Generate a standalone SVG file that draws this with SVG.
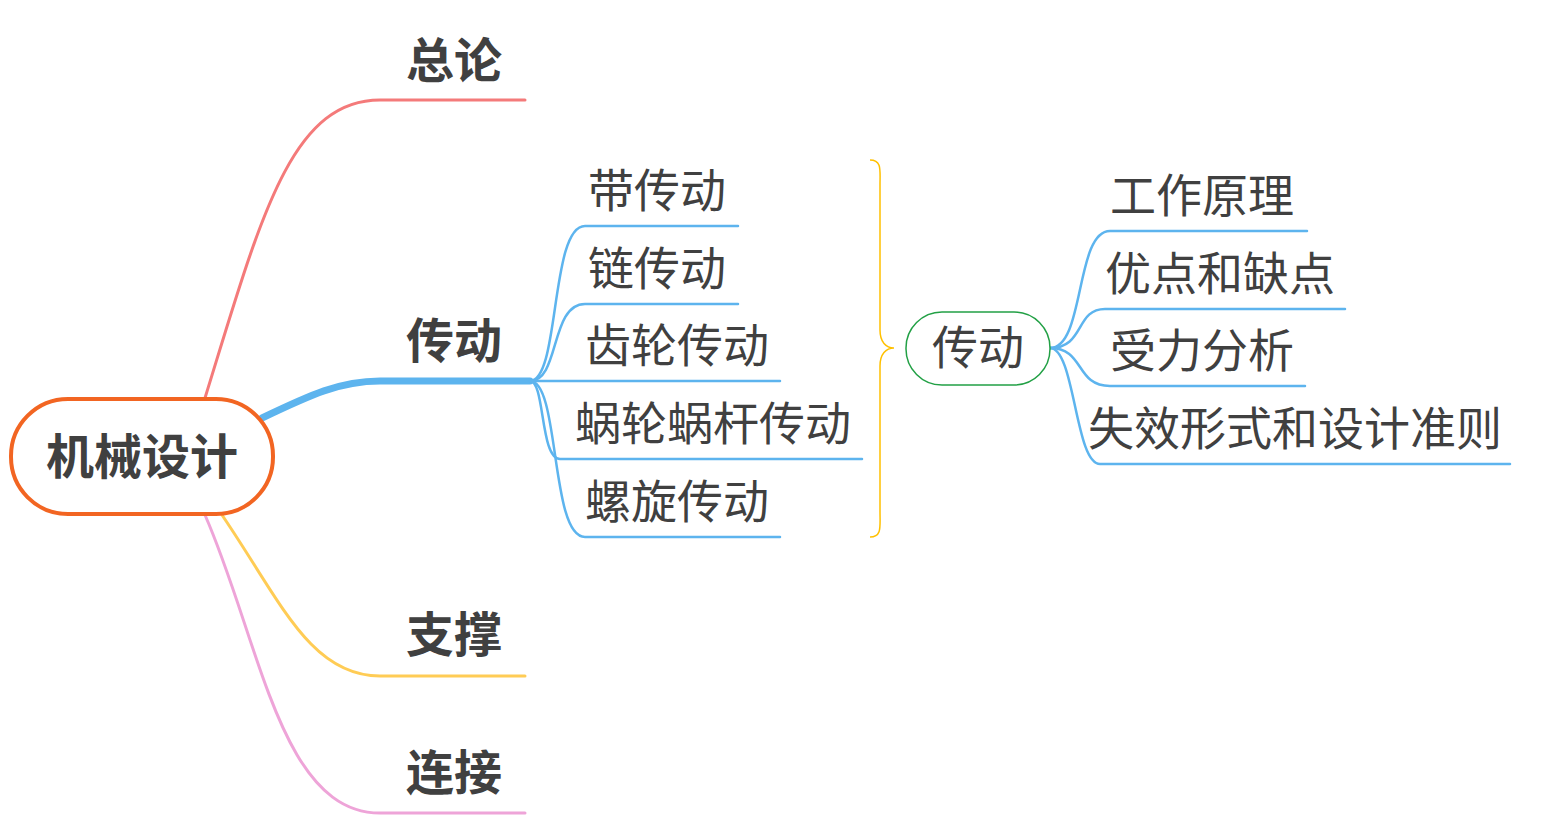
<svg xmlns="http://www.w3.org/2000/svg" width="1546" height="839" viewBox="0 0 1546 839">
<style>
text{font-family:"Noto Sans CJK SC","Noto Sans",sans-serif;fill:#404040}
.b{font-weight:bold;font-size:48px}
.n{font-size:46px}
.c{fill:none;stroke-width:3;stroke-linecap:round}
</style>
<rect width="1546" height="839" fill="#fff"/>
<g id="connectors">
<path class="c" d="M205,398 C260,220 290,100 380,100 H525" stroke="#F47A7A" stroke-width="4"/>
<path class="c" d="M262,418 C310,395 340,381 380,381 H530" stroke="#5DB4EE" style="stroke-width:7"/>
<path d="M380,381 H530" class="c" stroke="#5DB4EE"/>
<path class="c" d="M222,515 C280,600 310,676 380,676 H525" stroke="#FFCC55"/>
<path class="c" d="M205,515 C260,640 280,813 380,813 H525" stroke="#EEA4D8"/>
<g stroke="#5DB4EE" class="c" style="stroke-width:2.5" fill="none">
<path d="M530,381 C560,381 550,226 585,226 H738"/>
<path d="M530,381 C560,381 550,304 585,304 H738"/>
<path d="M530,381 H780"/>
<path d="M530,381 C545,381 540,459 560,459 H862"/>
<path d="M530,381 C560,381 550,537 585,537 H780"/>
<path d="M1050,348 C1085,348 1075,231 1110,231 H1307"/>
<path d="M1050,348 C1085,348 1075,309 1105,309 H1345"/>
<path d="M1050,348 C1085,348 1075,386 1110,386 H1305"/>
<path d="M1050,348 C1075,348 1075,464 1100,464 H1510"/>
</g>
<path d="M870,160 C882,160 880,170 880,185 V330 C880,342 886,348 894,348 C886,348 880,354 880,366 V512 C880,527 882,537 870,537" fill="none" stroke="#FFC000" stroke-width="1.5"/>
</g>
<g id="root"><rect x="11" y="399" width="262" height="115" rx="57" fill="#fff" stroke="#F26522" stroke-width="4"/><text class="b" x="142" y="474" text-anchor="middle">机械设计</text></g>
<g id="n1"><text class="b" x="406" y="78">总论</text></g>
<g id="n2"><text class="b" x="406" y="358">传动</text></g>
<g id="n3"><text class="b" x="406" y="652">支撑</text></g>
<g id="n4"><text class="b" x="406" y="790">连接</text></g>
<g id="s1"><text class="n" x="588" y="207">带传动</text></g>
<g id="s2"><text class="n" x="588" y="285">链传动</text></g>
<g id="s3"><text class="n" x="585" y="362">齿轮传动</text></g>
<g id="s4"><text class="n" x="575" y="440">蜗轮蜗杆传动</text></g>
<g id="s5"><text class="n" x="585" y="518">螺旋传动</text></g>
<g id="mid"><rect x="906" y="312" width="144" height="73" rx="36" fill="#fff" stroke="#22A045" stroke-width="1.5"/><text class="n" x="978" y="364" text-anchor="middle">传动</text></g>
<g id="r1"><text class="n" x="1110" y="212">工作原理</text></g>
<g id="r2"><text class="n" x="1105" y="290">优点和缺点</text></g>
<g id="r3"><text class="n" x="1110" y="367">受力分析</text></g>
<g id="r4"><text class="n" x="1088" y="445">失效形式和设计准则</text></g>
</svg>
